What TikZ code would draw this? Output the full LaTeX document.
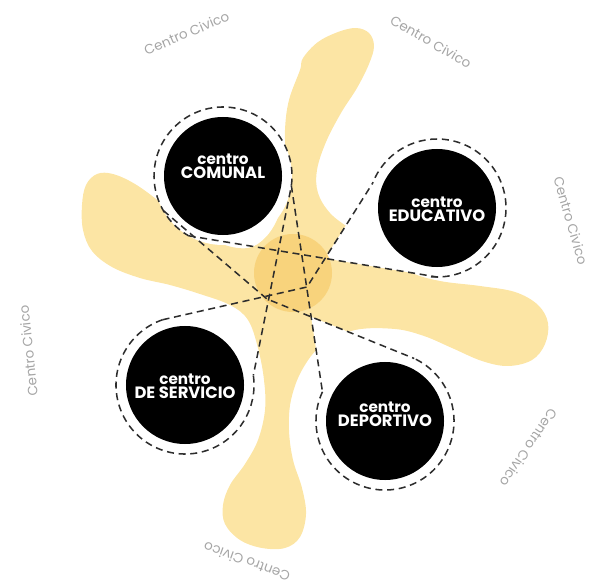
\documentclass[tikz,border=0pt]{standalone}
\usepackage{fontspec}
\usepackage{xcolor}
\usepackage{tikz}
\usetikzlibrary{calc}
\newfontfamily\tagfont{Poppins}
\newfontfamily\civfont{Poppins}
\definecolor{blob}{RGB}{252,229,164}
\definecolor{core}{RGB}{248,211,124}
\definecolor{civgray}{RGB}{165,165,165}
\definecolor{dashgray}{RGB}{45,45,45}

\begin{document}
\begin{tikzpicture}[
  x=0.03cm,
  y=0.03cm,
  hub/.style={circle, fill=black, minimum size=3.54cm, inner sep=0pt, outer sep=0pt},
  halo/.style={circle, minimum size=4.14cm, inner sep=0pt, outer sep=0pt},
  tag/.style={text=white, align=center, font=\tagfont\bfseries},
  link/.style={draw=dashgray, line width=1.3pt, dash pattern=on 6pt off 4pt},
  civico/.style={text=civgray, font=\civfont\fontsize{11.5}{13}\selectfont}
]
  \useasboundingbox (0,0) rectangle (595,581);

  \node[halo] (comR) at (223,405) {};
  \node[halo] (eduR) at (437,373) {};
  \node[halo] (serR) at (185,196) {};
  \node[halo] (depR) at (385,160) {};
  \coordinate (j1) at (267,282);
  \coordinate (j2) at (307,294);

  % pinwheel
  \fill[blob] plot[smooth cycle, tension=0.6] coordinates {
    (303,523) (318,539) (338,549) (356,553) (369,548) (374,535) (369,517)
    (357,493) (341,468) (326,439) (317,411) (318,388) (330,368) (350,352)
    (380,329) (410,309) (440,300) (480,295) (515,289) (538,276) (548,258)
    (545,237) (532,221) (508,215) (482,220) (452,233) (424,245) (395,252)
    (355,251) (322,236) (302,211) (291,181) (289,151) (293,121) (302,93)
    (306,67) (300,44) (285,33) (262,33) (240,41) (225,57) (223,76)
    (230,96) (245,117) (258,141) (265,171) (264,201) (258,233) (248,261)
    (230,276) (200,287) (170,296) (140,303) (112,314) (92,330) (83,351)
    (82,376) (86,396) (97,407) (113,407) (135,397) (160,379) (190,355)
    (222,337) (248,333) (265,343) (277,361) (284,386) (286,416) (285,451)
    (289,481) (300,511)};

  \coordinate (xac) at (intersection of j2--eduR.159 and comR.240--eduR.270);
  \coordinate (xdf) at (intersection of comR.352--depR.155 and j1--depR.65);
  \foreach \r in {comR,eduR,serR,depR}
    \fill[white] (\r.center) circle (2.07cm);
  \fill[white] (eduR.center) -- (eduR.159) -- (xac) -- (eduR.270) -- cycle;
  \fill[white] (depR.center) -- (depR.155) -- (xdf) -- (depR.65) -- cycle;

  \node[circle, fill=core, minimum size=2.34cm, inner sep=0pt] (core) at (293,308) {};

  % rings and links
  \draw[link] (comR.352) arc[start angle=-8, end angle=240, radius=2.07cm];
  \draw[link] (eduR.265) arc[start angle=-95, end angle=159, radius=2.07cm];
  \draw[link] (serR.109) arc[start angle=109, end angle=368, radius=2.07cm];
  \draw[link] (depR.155) arc[start angle=155, end angle=425, radius=2.07cm];
  \draw[link] (comR.240) -- (eduR.270);
  \draw[link] (comR.210) -- (j1) -- (depR.65);
  \draw[link] (serR.109) -- (j2) -- (eduR.159);
  \draw[link] (comR.352) -- (depR.155);
  \draw[link] (comR.348) -- (serR.8);

  \node[hub] (com) at (comR) {};
  \node[hub] (edu) at (eduR) {};
  \node[hub] (ser) at (serR) {};
  \node[hub] (dep) at (depR) {};
  \node[tag] (com-t) at (223,415) {\fontsize{13}{17}\selectfont centro\\\fontsize{14}{17}\selectfont COMUNAL};
  \node[tag] (edu-t) at (437,372) {\fontsize{13}{17}\selectfont centro\\\fontsize{14}{17}\selectfont EDUCATIVO};
  \node[tag] (ser-t) at (185,195) {\fontsize{13}{17}\selectfont centro\\\fontsize{14}{17}\selectfont DE SERVICIO};
  \node[tag] (dep-t) at (385,167) {\fontsize{13}{17}\selectfont centro\\\fontsize{14}{17}\selectfont DEPORTIVO};

  \foreach \a/\rot [count=\i] in {114/23, 62/-30, 14/-74, 193/96, -35/-124, -101/160}
    \node[civico, rotate=\rot] (civ-\i) at ($(300,293)+(\a:279)$) {Centro Civico};
\end{tikzpicture}
\end{document}
